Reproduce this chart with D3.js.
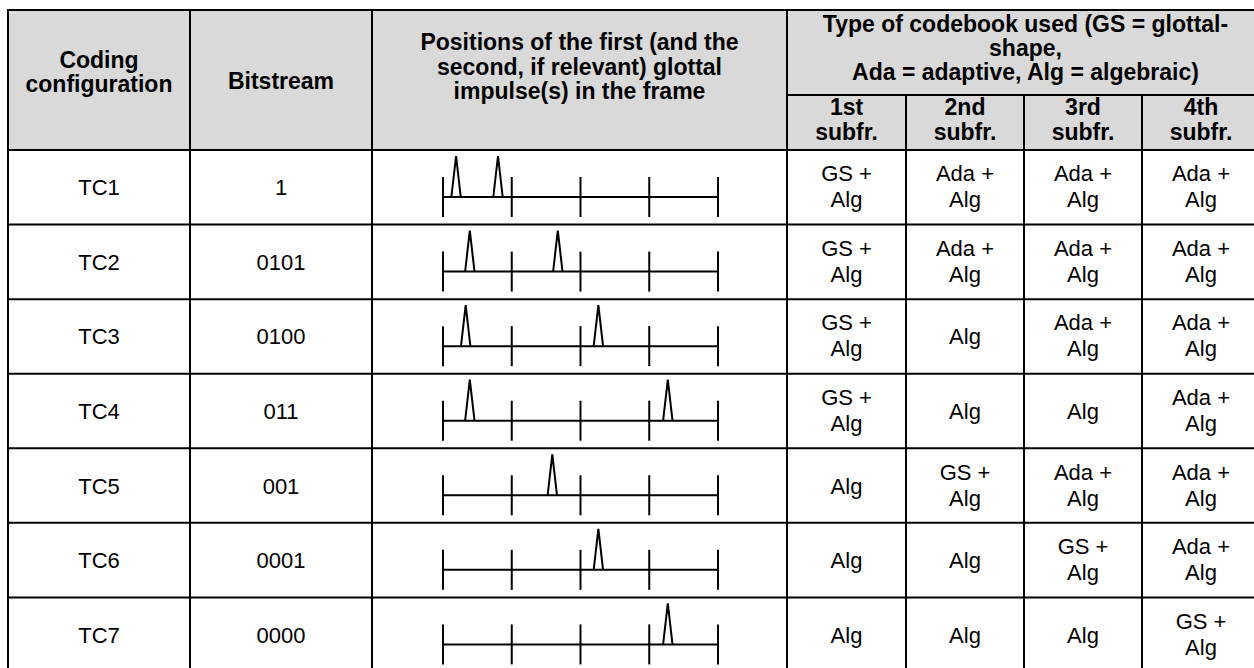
<!DOCTYPE html>
<html>
<head>
<meta charset="utf-8">
<script src="https://cdn.jsdelivr.net/npm/d3@7"></script>
<style>
  html, body { margin: 0; padding: 0; background: #fff; }
  svg { display: block; }
  text { font-family: "Liberation Sans", Arial, sans-serif; fill: #000; }
</style>
</head>
<body>
<svg id="chart" width="1254" height="668"></svg>
<script>
// ---- data ----
const configurations = ["TC1", "TC2", "TC3", "TC4", "TC5", "TC6", "TC7"];
const bitstreams = ["1", "0101", "0100", "011", "001", "0001", "0000"];
// glottal impulse positions, in subframe units (0..4 over the frame)
const impulsePositions = [
  [0.19, 0.80],
  [0.39, 1.67],
  [0.33, 2.26],
  [0.39, 3.27],
  [1.59],
  [2.26],
  [3.27]
];
const subframeBoundaries = [0, 1, 2, 3, 4];
const subframe1 = ["GS + Alg", "GS + Alg", "GS + Alg", "GS + Alg", "Alg", "Alg", "Alg"];
const subframe2 = ["Ada + Alg", "Ada + Alg", "Alg", "Alg", "GS + Alg", "Alg", "Alg"];
const subframe3 = ["Ada + Alg", "Ada + Alg", "Ada + Alg", "Alg", "Ada + Alg", "GS + Alg", "Alg"];
const subframe4 = ["Ada + Alg", "Ada + Alg", "Ada + Alg", "Ada + Alg", "Ada + Alg", "Ada + Alg", "GS + Alg"];
const headerCol1 = ["Coding", "configuration"];
const headerCol2 = ["Bitstream"];
const headerCol3 = ["Positions of the first (and the", "second, if relevant) glottal", "impulse(s) in the frame"];
const headerGroup = ["Type of codebook used (GS = glottal-", "shape,", "Ada = adaptive, Alg = algebraic)"];
const subHeaders = [["1st", "subfr."], ["2nd", "subfr."], ["3rd", "subfr."], ["4th", "subfr."]];

// ---- layout ----
const svg = d3.select("#chart");
const colX = [8, 190, 372, 787, 906, 1024, 1142, 1260];
const tableTop = 10, headerBottom = 150, subSplit = 95, tableBottom = 672;
const y = d3.scaleBand().domain(configurations).range([headerBottom, tableBottom]);
const fx = d3.scaleLinear().domain([0, 4]).range([443, 718]);
const subCols = d3.range(4).map(i => [colX[3 + i], colX[4 + i]]);
const subframes = [subframe1, subframe2, subframe3, subframe4];

// header background
svg.append("rect").attr("x", colX[0]).attr("y", tableTop)
  .attr("width", colX[7] - colX[0]).attr("height", headerBottom - tableTop)
  .attr("fill", "#d9d9d9");

function lines(g, arr, cx, baselines, bold, size) {
  arr.forEach((t, i) => {
    g.append("text").attr("x", cx).attr("y", baselines[i])
      .attr("text-anchor", "middle")
      .attr("font-size", size)
      .attr("font-weight", bold ? "bold" : "normal")
      .text(t);
  });
}

const hg = svg.append("g");
const HS = 23;
lines(hg, headerCol1, (colX[0] + colX[1]) / 2, [68, 92], true, HS);
lines(hg, headerCol2, (colX[1] + colX[2]) / 2, [89], true, HS);
lines(hg, headerCol3, (colX[2] + colX[3]) / 2, [50, 75, 99], true, HS);
lines(hg, headerGroup, (colX[3] + colX[7]) / 2 + 2, [32, 56, 80], true, HS);
subHeaders.forEach((s, i) => lines(hg, s, (subCols[i][0] + subCols[i][1]) / 2, [115, 140], true, HS));

// body
const BS = 22;
const rows = svg.append("g").selectAll("g").data(configurations).join("g")
  .attr("transform", d => `translate(0,${y(d)})`);
const bw = y.bandwidth();
const cy = bw / 2;

rows.each(function(d, r) {
  const g = d3.select(this);
  g.append("text").attr("x", (colX[0] + colX[1]) / 2).attr("y", cy + 8)
    .attr("text-anchor", "middle").attr("font-size", BS).text(configurations[r]);
  g.append("text").attr("x", (colX[1] + colX[2]) / 2).attr("y", cy + 8)
    .attr("text-anchor", "middle").attr("font-size", BS).text(bitstreams[r]);

  // frame diagram
  const axisY = 47;
  const dg = g.append("g").attr("stroke", "#000").attr("stroke-width", 2).attr("fill", "none");
  dg.append("line").attr("x1", fx(0)).attr("x2", fx(4)).attr("y1", axisY).attr("y2", axisY);
  dg.selectAll("line.tick").data(subframeBoundaries).join("line").attr("class", "tick")
    .attr("x1", d => fx(d)).attr("x2", d => fx(d)).attr("y1", axisY - 20).attr("y2", axisY + 20);
  dg.selectAll("path.pulse").data(impulsePositions[r]).join("path").attr("class", "pulse")
    .attr("stroke-linejoin", "miter")
    .attr("d", p => `M${fx(p) - 4.7},${axisY} L${fx(p)},${axisY - 41} L${fx(p) + 4.7},${axisY}`);

  // codebook cells
  subframes.forEach((sf, i) => {
    const cx = (subCols[i][0] + subCols[i][1]) / 2;
    const t = sf[r];
    if (t.includes("+")) {
      const parts = [t.slice(0, t.indexOf("+") + 1), t.slice(t.indexOf("+") + 1).trim()];
      lines(g, parts, cx, [cy - 6, cy + 20], false, BS);
    } else {
      lines(g, [t], cx, [cy + 8], false, BS);
    }
  });
});

// grid lines
const grid = svg.append("g").attr("stroke", "#000").attr("stroke-width", 2);
[tableTop, headerBottom].concat(configurations.map(c => y(c) + bw)).forEach(v => {
  grid.append("line").attr("x1", colX[0] - 1).attr("x2", colX[7] + 1).attr("y1", v).attr("y2", v);
});
grid.append("line").attr("x1", colX[3]).attr("x2", colX[7]).attr("y1", subSplit).attr("y2", subSplit);
colX.forEach((x, i) => {
  const y1 = (i >= 4 && i <= 6) ? subSplit : tableTop;
  grid.append("line").attr("x1", x).attr("x2", x).attr("y1", y1).attr("y2", tableBottom);
});
</script>
</body>
</html>
